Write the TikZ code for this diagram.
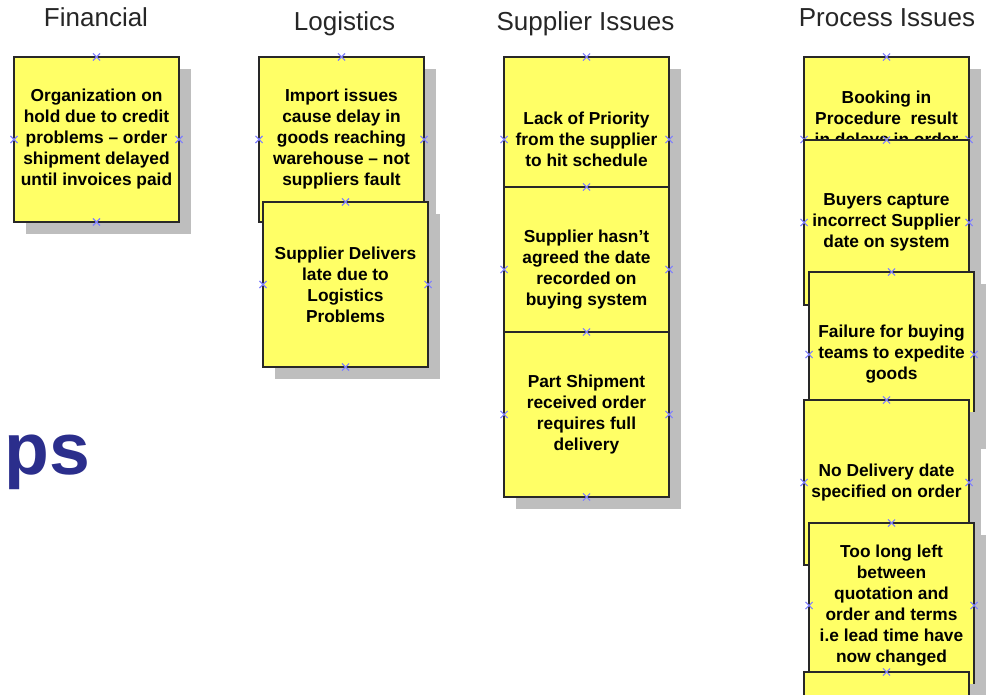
\documentclass[tikz,border=0pt]{standalone}
\usepackage{fontspec}
\setmainfont{Liberation Sans}
\usetikzlibrary{shapes.misc}
\definecolor{stickyyellow}{RGB}{255,255,102}
\definecolor{shadowgray}{RGB}{190,190,190}
\definecolor{markblue}{RGB}{128,128,255}
\definecolor{titleblue}{RGB}{43,46,140}
\definecolor{edgegray}{RGB}{40,40,40}
\newcommand{\stickynote}[4]{%
  \node[shadowbox] (#1-sh) at (#2+94.5,#3+94.5) {};
  \node[notebox] (#1) at (#2+82.5,#3+82.5) {#4};
  \foreach \a in {north,south,east,west} {\node[xcross] (#1-\a) at (#1.\a) {};}
}
\tikzset{
  notebox/.style={draw=edgegray, line width=0.9pt, fill=stickyyellow,
    minimum width=123.75pt, minimum height=123.75pt, inner sep=0pt, outer sep=0pt,
    align=center, text=black, font=\bfseries\fontsize{13}{15.75}\selectfont},
  shadowbox/.style={fill=shadowgray, minimum width=123.75pt, minimum height=123.75pt,
    inner sep=0pt, outer sep=0pt},
  xcross/.style={cross out, draw=markblue, line width=0.8pt, minimum size=4.5pt, inner sep=0pt},
  header/.style={font=\fontsize{19.5}{23}\selectfont, anchor=base, inner sep=0pt, text=black!85}
}
\begin{document}
\begin{tikzpicture}[x=0.75pt,y=-0.75pt]
\useasboundingbox (0,0) rectangle (992,695);
\clip (0,0) rectangle (992,695);
\fill[white] (0,0) rectangle (992,695);
% headers
\node[header] (hF) at (96,27) {Financial};
\node[header] (hL) at (344.5,31) {Logistics};
\node[header] (hS) at (585.5,31) {Supplier Issues};
\node[header] (hP) at (887,27) {Process Issues};
% partial title
\node[anchor=base west, inner sep=0pt, text=titleblue, font=\bfseries\fontsize{55}{66}\selectfont] (ps) at (4,474) {ps};
% Financial
\stickynote{F1}{14}{57}{Organization on\\hold due to credit\\problems – order\\shipment delayed\\until invoices paid}
% Logistics
\stickynote{L1}{259}{57}{Import issues\\cause delay in\\goods reaching\\warehouse – not\\suppliers fault}
\stickynote{L2}{263}{202}{Supplier Delivers\\late due to\\Logistics\\Problems}
% Supplier issues
\stickynote{S1}{504}{57}{Lack of Priority\\from the supplier\\to hit schedule}
\stickynote{S2}{504}{187}{Supplier hasn’t\\agreed the date\\recorded on\\buying system}
\stickynote{S3}{504}{332}{Part Shipment\\received order\\requires full\\delivery}
% Process issues
\stickynote{P1}{804}{57}{Booking in\\Procedure~ result\\in delays in order\\\mbox{}\\\mbox{}}
\stickynote{P2}{804}{140}{Buyers capture\\incorrect Supplier\\date on system}
\stickynote{P3}{809}{272}{Failure for buying\\teams to expedite\\goods}
\stickynote{P4}{804}{400}{No Delivery date\\specified on order}
\stickynote{P5}{809}{523}{Too long left\\between\\quotation and\\order and terms\\i.e lead time have\\now changed}
\stickynote{P6}{804}{672}{}
\end{tikzpicture}
\end{document}
